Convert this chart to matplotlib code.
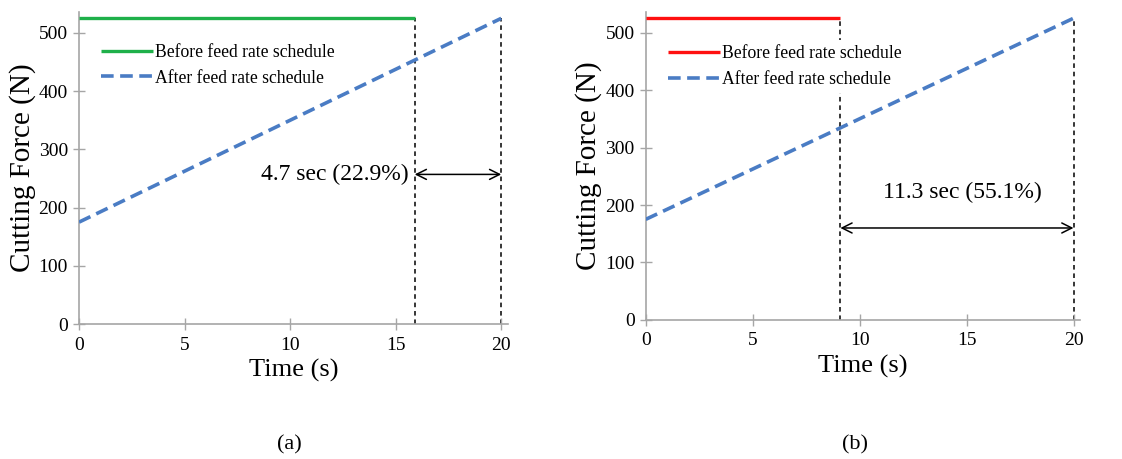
import matplotlib
matplotlib.use('Agg')
import matplotlib.pyplot as plt

plt.rcParams['font.family'] = ['Liberation Serif', 'DejaVu Serif']

# ── Data ─────────────────────────────────────────────────────────────────
T_END = 20.0
F_MAX = 525
F_START = 175
t_before = [15.9, 9.1]          # end of "before" machining, panels (a), (b)
labels = ["4.7 sec (22.9%)", "11.3 sec (55.1%)"]
before_colors = ["#1fb04a", "#ff1010"]
arrow_y = [257, 160]
text_xy = [(15.6, 257), (14.8, 222)]
text_ha = ["right", "center"]
panel_tags = ["(a)", "(b)"]

BLUE = "#4a7cc4"
GRAY = "#a6a6a6"

fig = plt.figure(figsize=(11.22, 4.59), dpi=100)
rects = [[0.0704, 0.294, 0.382, 0.680], [0.5755, 0.303, 0.387, 0.671]]
leg_anchor = [(0.04, 0.915), (0.04, 0.91)]
tag_x = [0.258, 0.762]

for i, rect in enumerate(rects):
    ax = fig.add_axes(rect)
    tb = t_before[i]
    ax.plot([0, tb], [F_MAX, F_MAX], color=before_colors[i], lw=2.4,
            label="Before feed rate schedule", zorder=3, solid_capstyle="butt")
    ax.plot([0, T_END], [F_START, F_MAX], color=BLUE, lw=2.6,
            dashes=(3.5, 1.8), label="After feed rate schedule", zorder=3)
    ax.plot([tb, tb], [0, F_MAX], color="black", lw=1.1, dashes=(3, 2.5), zorder=1)
    ax.plot([T_END, T_END], [0, F_MAX], color="black", lw=1.1, dashes=(3, 2.5), zorder=1)
    ax.annotate("", xy=(tb, arrow_y[i]), xytext=(T_END, arrow_y[i]),
                arrowprops=dict(arrowstyle="<->", color="black", lw=1.1,
                                shrinkA=0, shrinkB=0, mutation_scale=18))
    ax.text(text_xy[i][0], text_xy[i][1], labels[i], fontsize=17,
            ha=text_ha[i], va="center")

    ax.set_xlim(0, 20.3)
    ax.set_ylim(0, 536)
    ax.set_xticks([0, 5, 10, 15, 20])
    ax.set_yticks([0, 100, 200, 300, 400, 500])
    ax.tick_params(direction="inout", length=8, width=1, color=GRAY,
                   labelsize=14)
    ax.tick_params(axis="x", pad=5)
    ax.tick_params(axis="y", pad=4)
    for s in ["top", "right"]:
        ax.spines[s].set_visible(False)
    for s in ["left", "bottom"]:
        ax.spines[s].set_color(GRAY)
        ax.spines[s].set_linewidth(1.2)
    ax.set_xlabel("Time (s)", fontsize=19, labelpad=4)
    ax.set_ylabel("Cutting Force (N)", fontsize=21, labelpad=2)

    leg = ax.legend(loc="upper left", bbox_to_anchor=leg_anchor[i], fontsize=12.7,
                    frameon=True, framealpha=1, edgecolor="none", fancybox=False,
                    handlelength=2.9, handletextpad=0.15, borderpad=0.3,
                    labelspacing=0.5, borderaxespad=0)
    leg.set_zorder(2)

    fig.text(tag_x[i], 0.02, panel_tags[i], fontsize=16, ha="center")

plt.savefig("out.png", dpi=100, facecolor="white")
